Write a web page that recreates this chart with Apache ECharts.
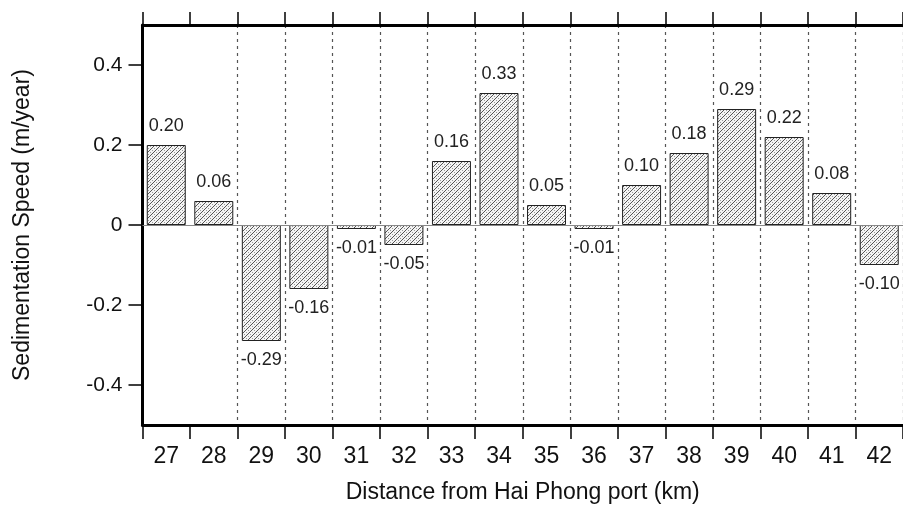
<!DOCTYPE html>
<html>
<head>
<meta charset="utf-8">
<script src="https://cdn.jsdelivr.net/npm/echarts@6/dist/echarts.min.js"></script>
<style>
  html, body { margin: 0; padding: 0; background: #fff; }
  #chart { width: 903px; height: 509px; }
</style>
</head>
<body>
<div id="chart"></div>
<script>
// distance from Hai Phong port (km)
const distances = ['27', '28', '29', '30', '31', '32', '33', '34', '35', '36', '37', '38', '39', '40', '41', '42']
// sedimentation speed (m/year)
const speeds = [0.20, 0.06, -0.29, -0.16, -0.01, -0.05, 0.16, 0.33, 0.05, -0.01, 0.10, 0.18, 0.29, 0.22, 0.08, -0.10]
const yTicks = [-0.4, -0.2, 0, 0.2, 0.4]

const font = "'Liberation Sans', Arial, sans-serif"

// hatch fill for the bars: dark "/" lines with a dotted grey line between
const makeHatch = () => {
  const s = 6
  const c = document.createElement('canvas')
  c.width = s
  c.height = s
  const ctx = c.getContext('2d')
  ctx.fillStyle = '#f4f4f4'
  ctx.fillRect(0, 0, s, s)
  ctx.strokeStyle = '#555'
  ctx.lineWidth = 1
  ctx.beginPath()
  ctx.moveTo(-1, s + 1); ctx.lineTo(s + 1, -1)
  ctx.stroke()
  // dotted line half way between
  ctx.fillStyle = '#9a9a9a'
  for (let i = 0; i < s; i += 2) {
    ctx.fillRect(i, (s / 2 - 1 - i + s) % s, 1, 1)
  }
  return c
}

const chart = echarts.init(document.getElementById('chart'))

chart.setOption({
  animation: false,
  textStyle: { fontFamily: font },
  grid: { left: 142.5, right: -3, top: 25, bottom: 82.5 },
  xAxis: [
    {
      type: 'category',
      data: distances,
      position: 'bottom',
      name: 'Distance from Hai Phong port (km)',
      nameLocation: 'middle',
      nameGap: 56,
      nameTextStyle: { fontSize: 23, color: '#111', fontFamily: font },
      axisLine: { onZero: false, lineStyle: { color: '#000', width: 3 } },
      axisTick: { show: true, length: 14, lineStyle: { color: '#000', width: 1.5 } },
      axisLabel: { fontSize: 23, color: '#111', margin: 20, fontFamily: font },
      splitLine: {
        show: true,
        interval: (index) => index >= 2,
        lineStyle: { color: '#555', width: 1.2, type: [3, 4] },
      },
    },
    {
      type: 'category',
      data: distances,
      position: 'top',
      axisLine: { onZero: false, lineStyle: { color: '#000', width: 3 } },
      axisTick: { show: true, length: 13, lineStyle: { color: '#000', width: 1.5 } },
      axisLabel: { show: false },
      splitLine: { show: false },
    },
  ],
  yAxis: {
    type: 'value',
    min: -0.5,
    max: 0.5,
    name: 'Sedimentation Speed (m/year)',
    nameLocation: 'middle',
    nameRotate: 90,
    nameGap: 108,
    nameTextStyle: { fontSize: 23, color: '#111', fontFamily: font },
    axisLine: { show: true, onZero: false, lineStyle: { color: '#000', width: 3 } },
    axisTick: { show: true, length: 14, customValues: yTicks, lineStyle: { color: '#000', width: 1.5 } },
    axisLabel: {
      fontSize: 21,
      color: '#111',
      margin: 20,
      fontFamily: font,
      customValues: yTicks,
      formatter: (v) => (v === 0 ? '0' : v.toFixed(1)),
    },
    splitLine: { show: false },
  },
  series: [
    {
      type: 'bar',
      xAxisIndex: 0,
      barCategoryGap: '18%',
      data: speeds.map((v) => ({
        value: v,
        label: { position: v < 0 ? 'bottom' : 'top' },
      })),
      itemStyle: {
        color: { image: makeHatch(), repeat: 'repeat' },
        borderColor: '#222',
        borderWidth: 1,
      },
      label: {
        show: true,
        fontSize: 18,
        color: '#222',
        distance: 10,
        fontFamily: font,
        formatter: (p) => p.value.toFixed(2),
      },
      markLine: {
        silent: true,
        symbol: 'none',
        label: { show: false },
        lineStyle: { color: '#888', width: 1, type: 'solid' },
        data: [{ yAxis: 0 }],
      },
    },
  ],
})
</script>
</body>
</html>
